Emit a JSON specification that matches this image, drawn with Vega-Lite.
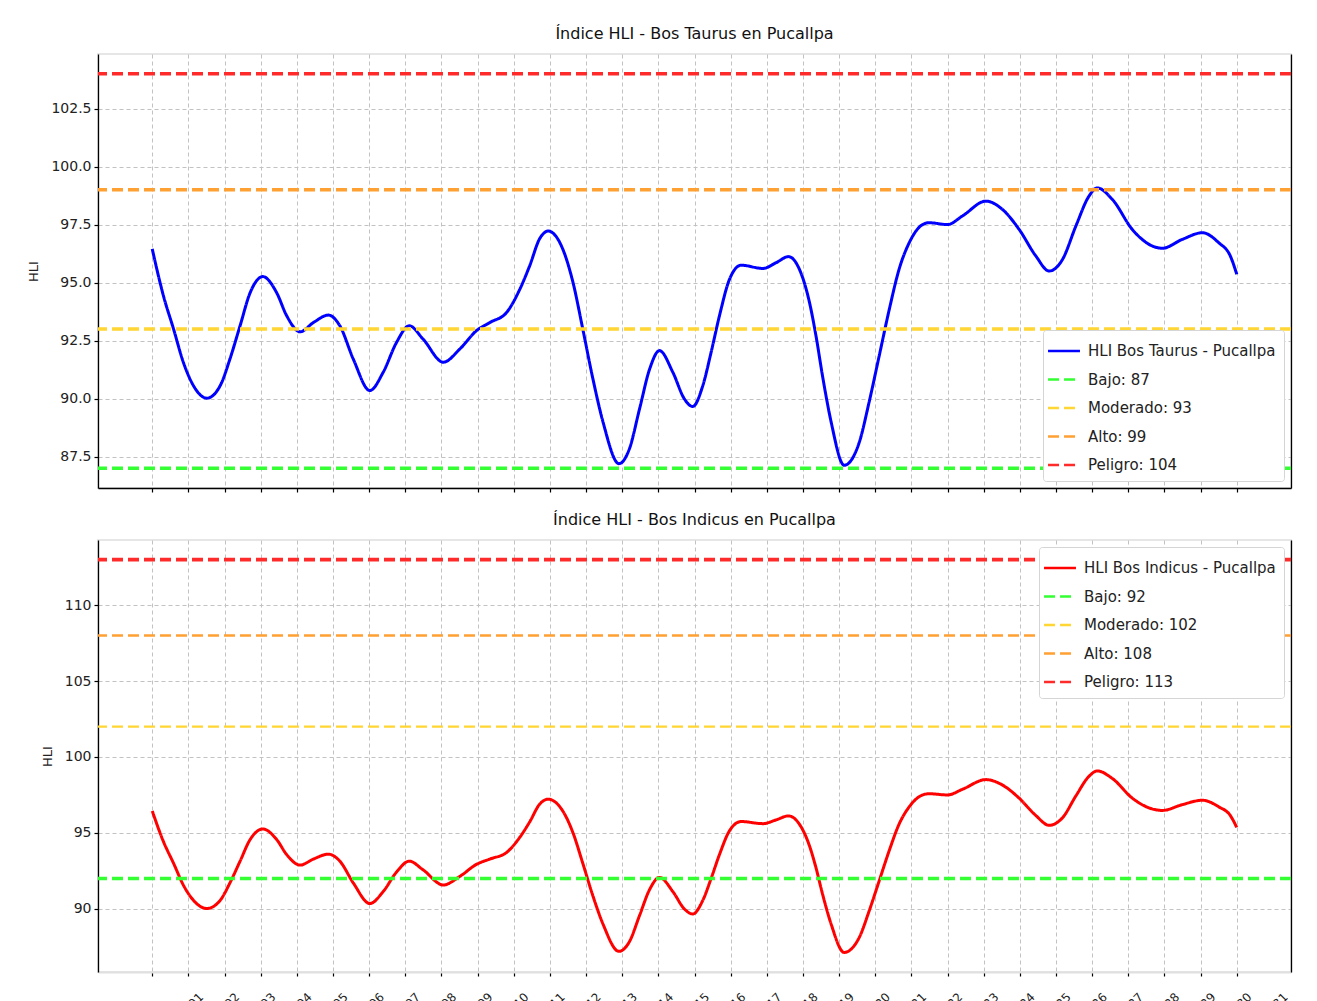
{
  "$schema": "https://vega.github.io/schema/vega-lite/v6.json",
  "padding": {"left": 26, "top": 25, "right": 0, "bottom": 0},
  "background": "white",
  "datasets": {
    "hli": [
      {"dia": 1.0, "hli": 96.45}, {"dia": 1.31, "hli": 94.43}, {"dia": 1.59, "hli": 93.0}, {"dia": 1.86, "hli": 91.57},
      {"dia": 2.14, "hli": 90.56}, {"dia": 2.51, "hli": 90.02}, {"dia": 2.88, "hli": 90.56}, {"dia": 3.15, "hli": 91.71},
      {"dia": 3.43, "hli": 93.14}, {"dia": 3.71, "hli": 94.57}, {"dia": 4.06, "hli": 95.26}, {"dia": 4.44, "hli": 94.57},
      {"dia": 4.72, "hli": 93.57}, {"dia": 5.09, "hli": 92.88}, {"dia": 5.46, "hli": 93.28}, {"dia": 5.87, "hli": 93.6},
      {"dia": 6.19, "hli": 93.14}, {"dia": 6.56, "hli": 91.71}, {"dia": 7.02, "hli": 90.35}, {"dia": 7.39, "hli": 91.14},
      {"dia": 7.76, "hli": 92.43}, {"dia": 8.11, "hli": 93.14}, {"dia": 8.49, "hli": 92.57}, {"dia": 9.05, "hli": 91.57},
      {"dia": 9.51, "hli": 92.14}, {"dia": 9.97, "hli": 92.93}, {"dia": 10.34, "hli": 93.28}, {"dia": 10.8, "hli": 93.71},
      {"dia": 11.17, "hli": 94.72}, {"dia": 11.44, "hli": 95.72}, {"dia": 11.72, "hli": 96.9}, {"dia": 11.95, "hli": 97.22},
      {"dia": 12.36, "hli": 96.43}, {"dia": 12.64, "hli": 95.0}, {"dia": 12.91, "hli": 93.0}, {"dia": 13.19, "hli": 90.85},
      {"dia": 13.47, "hli": 88.99}, {"dia": 13.91, "hli": 87.2}, {"dia": 14.2, "hli": 87.84}, {"dia": 14.48, "hli": 89.56},
      {"dia": 14.76, "hli": 91.28}, {"dia": 15.03, "hli": 92.07}, {"dia": 15.4, "hli": 91.14}, {"dia": 15.72, "hli": 89.99},
      {"dia": 15.95, "hli": 89.66}, {"dia": 16.23, "hli": 90.56}, {"dia": 16.46, "hli": 92.0}, {"dia": 16.69, "hli": 93.57},
      {"dia": 16.97, "hli": 95.15}, {"dia": 17.29, "hli": 95.75}, {"dia": 17.89, "hli": 95.61}, {"dia": 18.26, "hli": 95.86},
      {"dia": 18.6, "hli": 96.12}, {"dia": 18.9, "hli": 95.58}, {"dia": 19.18, "hli": 94.15}, {"dia": 19.36, "hli": 92.71},
      {"dia": 19.54, "hli": 90.99}, {"dia": 19.78, "hli": 88.99}, {"dia": 20.14, "hli": 87.13}, {"dia": 20.56, "hli": 88.13},
      {"dia": 20.83, "hli": 89.85}, {"dia": 21.11, "hli": 91.85}, {"dia": 21.39, "hli": 93.86}, {"dia": 21.66, "hli": 95.58},
      {"dia": 21.94, "hli": 96.72}, {"dia": 22.31, "hli": 97.5}, {"dia": 22.49, "hli": 97.58}, {"dia": 23.0, "hli": 97.5},
      {"dia": 23.41, "hli": 97.87}, {"dia": 24.06, "hli": 98.51}, {"dia": 24.52, "hli": 98.15}, {"dia": 24.98, "hli": 97.29},
      {"dia": 25.44, "hli": 96.15}, {"dia": 25.81, "hli": 95.5}, {"dia": 26.18, "hli": 96.0}, {"dia": 26.55, "hli": 97.44},
      {"dia": 26.91, "hli": 98.72}, {"dia": 27.14, "hli": 99.08}, {"dia": 27.56, "hli": 98.58}, {"dia": 28.11, "hli": 97.29},
      {"dia": 28.66, "hli": 96.58}, {"dia": 28.94, "hli": 96.48}, {"dia": 29.49, "hli": 96.86}, {"dia": 30.05, "hli": 97.15},
      {"dia": 30.5, "hli": 96.72}, {"dia": 30.82, "hli": 96.15}, {"dia": 31.0, "hli": 95.36}
    ],
    "umbrales_taurus": [
      {"serie": "Bajo: 87", "valor": 87},
      {"serie": "Moderado: 93", "valor": 93},
      {"serie": "Alto: 99", "valor": 99},
      {"serie": "Peligro: 104", "valor": 104}
    ],
    "umbrales_indicus": [
      {"serie": "Bajo: 92", "valor": 92},
      {"serie": "Moderado: 102", "valor": 102},
      {"serie": "Alto: 108", "valor": 108},
      {"serie": "Peligro: 113", "valor": 113}
    ]
  },
  "spacing": 17,
  "vconcat": [
    {
      "width": 1193,
      "height": 434,
      "title": {"text": "Índice HLI - Bos Taurus en Pucallpa"},
      "resolve": {"axis": {"y": "independent"}},
      "layer": [
        {
          "data": {"name": "hli"},
          "mark": {"type": "line", "interpolate": "monotone", "strokeWidth": 3, "clip": true},
          "encoding": {
            "x": {"field": "dia", "type": "quantitative", "scale": {"domain": [-0.5, 32.5], "nice": false, "zero": false},
                  "axis": {"title": null, "values": [1,2,3,4,5,6,7,8,9,10,11,12,13,14,15,16,17,18,19,20,21,22,23,24,25,26,27,28,29,30,31], "labels": false}},
            "y": {"field": "hli", "type": "quantitative", "scale": {"domain": [86.15, 104.85], "nice": false, "zero": false},
                  "axis": {"title": "HLI", "values": [87.5, 90, 92.5, 95, 97.5, 100, 102.5], "format": ".1f"}},
            "color": {"datum": "HLI Bos Taurus - Pucallpa", "type": "nominal",
                      "scale": {"domain": ["HLI Bos Taurus - Pucallpa", "Bajo: 87", "Moderado: 93", "Alto: 99", "Peligro: 104"],
                                "range": ["#0000ff", "#33ff33", "#ffd633", "#ffa033", "#ff2a2a"]},
                      "legend": {"title": null, "orient": "bottom-right"}},
            "strokeDash": {"datum": "HLI Bos Taurus - Pucallpa", "type": "nominal",
                      "scale": {"domain": ["HLI Bos Taurus - Pucallpa", "Bajo: 87", "Moderado: 93", "Alto: 99", "Peligro: 104"],
                                "range": [[1, 0], [11, 5], [11, 5], [11, 5], [11, 5]]},
                      "legend": {"title": null, "orient": "bottom-right"}}
          }
        },
        {
          "data": {"name": "umbrales_taurus"},
          "mark": {"type": "rule", "strokeWidth": 3.5},
          "encoding": {
            "y": {"field": "valor", "type": "quantitative", "scale": {"domain": [86.15, 104.85], "nice": false, "zero": false},
                  "axis": {"orient": "right", "title": null, "labels": false, "ticks": false, "grid": false}},
            "color": {"field": "serie", "type": "nominal", "legend": {"title": null, "orient": "bottom-right"}},
            "strokeDash": {"field": "serie", "type": "nominal", "legend": {"title": null, "orient": "bottom-right"}}
          }
        }
      ]
    },
    {
      "width": 1193,
      "height": 432,
      "title": {"text": "Índice HLI - Bos Indicus en Pucallpa"},
      "resolve": {"axis": {"y": "independent"}},
      "layer": [
        {
          "data": {"name": "hli"},
          "mark": {"type": "line", "interpolate": "monotone", "strokeWidth": 3, "clip": true},
          "encoding": {
            "x": {"field": "dia", "type": "quantitative", "scale": {"domain": [-0.5, 32.5], "nice": false, "zero": false},
                  "axis": {"title": null, "values": [1,2,3,4,5,6,7,8,9,10,11,12,13,14,15,16,17,18,19,20,21,22,23,24,25,26,27,28,29,30,31],
                           "labelExpr": "'2024-01-' + (datum.value < 10 ? '0' : '') + datum.value",
                           "labelAngle": -45, "labelAlign": "right", "labelBaseline": "top", "labelOffset": 45, "labelPadding": 15,
                           "labelFontSize": 12, "labelOverlap": false, "labelBound": false, "labelFlush": false,
                           "domainColor": "#e0e0e0", "domainWidth": 2}},
            "y": {"field": "hli", "type": "quantitative", "scale": {"domain": [85.84, 114.29], "nice": false, "zero": false},
                  "axis": {"title": "HLI", "values": [90, 95, 100, 105, 110]}},
            "color": {"datum": "HLI Bos Indicus - Pucallpa", "type": "nominal",
                      "scale": {"domain": ["HLI Bos Indicus - Pucallpa", "Bajo: 92", "Moderado: 102", "Alto: 108", "Peligro: 113"],
                                "range": ["#ff0000", "#33ff33", "#ffd633", "#ffa033", "#ff2a2a"]},
                      "legend": {"title": null, "orient": "top-right"}},
            "strokeDash": {"datum": "HLI Bos Indicus - Pucallpa", "type": "nominal",
                      "scale": {"domain": ["HLI Bos Indicus - Pucallpa", "Bajo: 92", "Moderado: 102", "Alto: 108", "Peligro: 113"],
                                "range": [[1, 0], [11, 5], [11, 5], [11, 5], [11, 5]]},
                      "legend": {"title": null, "orient": "top-right"}}
          }
        },
        {
          "data": {"name": "umbrales_indicus"},
          "mark": {"type": "rule"},
          "encoding": {
            "y": {"field": "valor", "type": "quantitative", "scale": {"domain": [85.84, 114.29], "nice": false, "zero": false},
                  "axis": {"orient": "right", "title": null, "labels": false, "ticks": false, "grid": false}},
            "color": {"field": "serie", "type": "nominal", "legend": {"title": null, "orient": "top-right"}},
            "strokeDash": {"field": "serie", "type": "nominal", "legend": {"title": null, "orient": "top-right"}},
            "strokeWidth": {"condition": {"test": "datum.serie == 'Alto: 108' || datum.serie == 'Moderado: 102'", "value": 2.3}, "value": 3.6}
          }
        }
      ]
    }
  ],
  "resolve": {
    "scale": {"color": "independent", "strokeDash": "independent"},
    "legend": {"color": "independent", "strokeDash": "independent"}
  },
  "config": {
    "font": "DejaVu Sans",
    "view": {"stroke": "#e6e6e6", "strokeWidth": 2},
    "axis": {
      "domainColor": "#000000", "domainWidth": 1.3, "tickColor": "#000000", "tickSize": 4, "tickWidth": 1.2,
      "labelFontSize": 14, "labelColor": "#222222", "labelPadding": 3,
      "titleFontSize": 13, "titleFontWeight": "normal", "titleColor": "#222222", "titlePadding": 10,
      "gridColor": "#c2c2c2", "gridDash": [4, 3], "gridWidth": 1
    },
    "legend": {
      "fillColor": "white", "strokeColor": "#d5d5d5", "cornerRadius": 3, "padding": 8,
      "labelFontSize": 15, "labelLimit": 400, "labelColor": "#222222", "labelOffset": 11,
      "symbolType": "M-1.4,0H1.4", "symbolSize": 520, "symbolStrokeWidth": 2.5, "rowPadding": 7.5, "offset": 7
    },
    "title": {"fontSize": 16, "fontWeight": "normal", "color": "#111111", "offset": 12}
  }
}
